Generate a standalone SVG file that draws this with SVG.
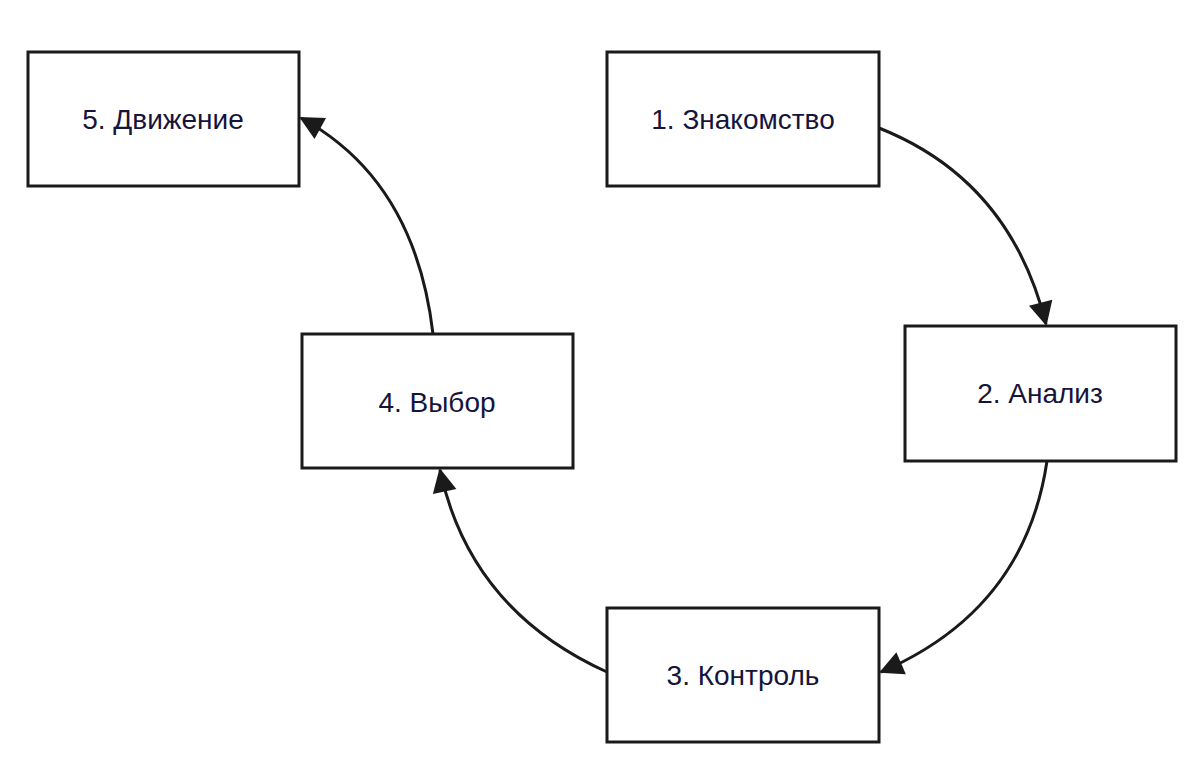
<svg xmlns="http://www.w3.org/2000/svg" width="1200" height="780" viewBox="0 0 1200 780">
<style>
.n rect{fill:#fff;stroke:#1a1a1a;stroke-width:3}
.n text{font-family:"Liberation Sans",Arial,sans-serif;font-size:28px;fill:#14143c;text-anchor:middle;dominant-baseline:central}
.c path{fill:none;stroke:#1a1a1a;stroke-width:3;marker-end:url(#a)}
</style>
<defs><marker id="a" markerWidth="10" markerHeight="10" refX="8" refY="5" orient="auto" markerUnits="userSpaceOnUse" viewBox="0 0 10 10" style="overflow:visible"><path d="M0,0 L10,5 L0,10 z" fill="#1a1a1a" transform="scale(2.4) translate(-5.8,-2.9)"/></marker></defs>
<rect width="1200" height="780" fill="#fff"/>
<g class="c">
<path d="M879,128 Q1010,180 1046,324"/>
<path d="M1047,461 Q1025,610 881,672"/>
<path d="M607,672 Q470,610 440,470"/>
<path d="M433,334 Q415,180 301,118"/>
</g>
<g id="n1" class="n"><rect x="607" y="52" width="272" height="134"/><text x="743" y="119">1. Знакомство</text></g>
<g id="n2" class="n"><rect x="905" y="326" width="271" height="135"/><text x="1040" y="393">2. Анализ</text></g>
<g id="n3" class="n"><rect x="607" y="608" width="272" height="134"/><text x="743" y="675">3. Контроль</text></g>
<g id="n4" class="n"><rect x="302" y="334" width="271" height="134"/><text x="437" y="402">4. Выбор</text></g>
<g id="n5" class="n"><rect x="28" y="52" width="271" height="134"/><text x="163" y="119">5. Движение</text></g>
</svg>
